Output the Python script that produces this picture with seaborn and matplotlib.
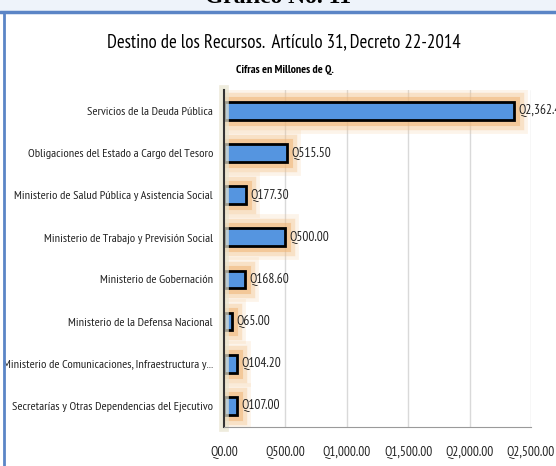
import matplotlib
matplotlib.use("Agg")
import matplotlib.pyplot as plt
import matplotlib.patheffects as pe
from matplotlib.ticker import FuncFormatter, FixedLocator
import pandas as pd
import seaborn as sns

categorias = ['Servicios de la Deuda Pública',
              'Obligaciones del Estado a Cargo del Tesoro',
              'Ministerio de Salud Pública y Asistencia Social',
              'Ministerio de Trabajo y Previsión Social',
              'Ministerio de Gobernación',
              'Ministerio de la Defensa Nacional',
              'Ministerio de Comunicaciones, Infraestructura y...',
              'Secretarías y Otras Dependencias del Ejecutivo']
montos = [2362.40, 515.50, 177.30, 500.00, 168.60, 65.00, 104.20, 107.00]
ticks_x = [0, 500, 1000, 1500, 2000, 2500]

data = pd.DataFrame({'categoria': categorias, 'monto': montos})

sns.set_style("white")
plt.rcParams['font.family'] = ['PT Sans Narrow', 'DejaVu Sans']

fig = plt.figure(figsize=(5.56, 4.66), dpi=100)

# marco superior tipo documento
fig.patches.append(plt.Rectangle((0, 0.976), 1, 0.024, transform=fig.transFigure,
                                 color='#eef3fa', zorder=0))
fig.add_artist(plt.Line2D([0, 1], [0.975, 0.975], color='#5b85c6', lw=2.5))
fig.add_artist(plt.Line2D([0.008, 0.008], [0, 0.975], color='#5b85c6', lw=2))
fig.text(0.5, 0.993, 'Gráfico No. 11', ha='center', va='baseline', fontsize=17,
         fontweight='bold', color='black', family=['Liberation Serif', 'DejaVu Serif'])

ax = fig.add_axes([0.403, 0.084, 0.552, 0.723])

sns.barplot(data=data, y='categoria', x='monto', orient='h', color='#5595e0',
            width=0.42, edgecolor='black', linewidth=2, saturation=1, ax=ax)

glow = [pe.Stroke(linewidth=20, foreground='#f3c48e', alpha=0.18),
        pe.Stroke(linewidth=14, foreground='#f2bf85', alpha=0.35),
        pe.Stroke(linewidth=8, foreground='#efb574', alpha=0.55),
        pe.Normal()]
for bar in ax.patches:
    bar.set_path_effects(glow)

for i, v in enumerate(montos):
    ax.text(v + 35, i, f'Q{v:,.2f}', va='center', ha='left', fontsize=9.5, color='#222222')

ax.set_xlim(0, 2500)
ax.set_ylim(len(categorias) - 0.5, -0.5)
ax.xaxis.set_major_locator(FixedLocator(ticks_x))
ax.xaxis.set_major_formatter(FuncFormatter(lambda x, p: f'Q{x:,.2f}'))
ax.grid(axis='x', color='#d9d9d9', lw=1)
ax.set_axisbelow(True)
ax.set_xlabel('')
ax.set_ylabel('')
ax.tick_params(axis='x', length=0, labelsize=9.5, pad=14, colors='#222222')
ax.tick_params(axis='y', length=0, labelsize=8.9, pad=8, colors='#222222')
ax.set_yticks(range(len(categorias)), categorias)
ax.yaxis.set_minor_locator(FixedLocator([i - 0.5 for i in range(len(categorias) + 1)]))
ax.tick_params(axis='y', which='minor', length=3, width=2, color='#222222', direction='out')

for s in ['top', 'right']:
    ax.spines[s].set_visible(False)
ax.spines['bottom'].set_color('#9a9a9a')
ax.spines['left'].set_color('#333333')
ax.spines['left'].set_linewidth(1.5)
ax.spines['left'].set_path_effects([pe.Stroke(linewidth=7, foreground='#e8e4cf', alpha=0.7),
                                    pe.Normal()])

fig.text(0.51, 0.91, 'Destino de los Recursos.  Artículo 31, Decreto 22-2014',
         ha='center', va='center', fontsize=13.5, color='black')
fig.text(0.512, 0.85, 'Cifras en Millones de Q.', ha='center', va='center',
         fontsize=8.5, fontweight='bold', color='black')

plt.savefig('out.png', dpi=100)
plt.close()
